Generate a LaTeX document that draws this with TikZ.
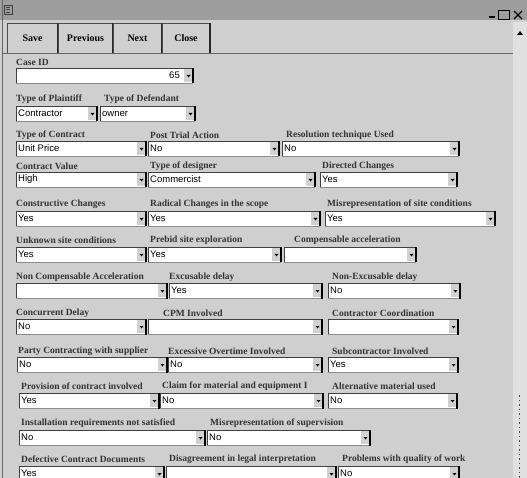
\documentclass[tikz,border=0pt]{standalone}
\usepackage{fontspec}
\setmainfont{Liberation Serif}
\newfontfamily\valfont{Liberation Sans}

% one drop-down field: name, left, right, top, value
\newcommand\formfield[5]{%
  \fill[white] (#2,#4) rectangle (#3,#4+15);
  \draw[fieldedge] (#2,#4+15) -- (#2,#4) -- (#3,#4);
  \draw[fieldfoot] (#2,#4+15) -- (#3,#4+15);
  \fill[btnface] (#3-9,#4+1) rectangle (#3-1,#4+14);
  \fill[black] (#3-6.5,#4+7) -- (#3-2.5,#4+7) -- (#3-4.5,#4+9.5) -- cycle;
  \draw[black, line width=2.2] (#3,#4) -- (#3,#4+15.5);
  \node[val] (#1) at (#2+2,#4+7.5) {#5};
}
% one field caption: name, x, y, text
\newcommand\formlabel[4]{\node[lab] (#1) at (#2,#3) {#4};}

\begin{document}
\begin{tikzpicture}[x=1pt,y=-1pt,
  lab/.style={anchor=west, inner sep=0pt, text=black!80,
              font=\fontsize{9.5}{10}\selectfont\bfseries},
  val/.style={anchor=west, inner sep=0pt, text=black,
              font=\valfont\fontsize{9.5}{10}\selectfont},
  btnlab/.style={inner sep=0pt, font=\fontsize{10}{11}\selectfont\bfseries},
  fieldedge/.style={draw=black!75, line width=0.8},
  fieldfoot/.style={draw=black!45, line width=0.6},
  btnface/.style={fill=black!18},
  toolbtn/.style={draw=black!70, line width=0.8},
]
\useasboundingbox (0,0) rectangle (527,478);
\fill[black!19] (0,0) rectangle (527,478);

% title bar
\fill[black!38] (0,0) rectangle (527,20);
\draw[black!75, line width=0.8] (4,5) rectangle (12,14);
\draw[black!75, line width=0.8] (6,7) -- (10,7) (6,9.5) -- (10,9.5) (6,12) -- (10,12);
\draw[black, line width=1.4] (489,17) -- (495,17);
\draw[black, line width=0.9] (498,10) rectangle (509,19);
\draw[black, line width=1.6] (498,10.5) -- (509,10.5);
\draw[black, line width=1.2] (514,11) -- (522,19) (522,11) -- (514,19);

% window border
\draw[black!60, line width=1.2] (2.5,0) -- (2.5,478);

% toolbar
\foreach \l/\r/\t/\n in {7/58/Save/bsave, 58/113/Previous/bprev, 113/162/Next/bnext, 162/210/Close/bclose}{
  \draw[toolbtn] (\l,53) -- (\l,23) -- (\r,23);
  \draw[black!85, line width=1.6] (\r,23) -- (\r,53);
  \node[btnlab] (\n) at ({(\l+\r)/2},38) {\t};
}
\draw[black!60, line width=0.9] (3,53) -- (513,53);

% scroll bar
\fill[black!12] (513,22) rectangle (527,478);
\fill[black] (517,35) -- (523,35) -- (520,31) -- cycle;
\draw[black!70, dashed, dash pattern=on 1.5pt off 3pt, line width=1] (519.5,395) -- (519.5,478);

% Case ID
\formlabel{lcase}{16}{62}{Case ID}
\formfield{fcase}{16}{193}{68}{}
\node[val, anchor=east] (vcase) at (180,75.5) {65};

% row 1
\formlabel{lplaint}{16}{99}{Type of Plaintiff}
\formlabel{ldefend}{104}{99}{Type of Defendant}
\formfield{fplaint}{16}{97}{106}{Contractor}
\formfield{fdefend}{100}{195}{106}{owner}

% row 2
\formlabel{lcontract}{16}{135}{Type of Contract}
\formlabel{lposttrial}{150}{135}{Post Trial Action}
\formlabel{lresol}{286}{135}{Resolution technique Used}
\formfield{fcontract}{16}{146}{141}{Unit Price}
\formfield{fposttrial}{148}{279}{141}{No}
\formfield{fresol}{282}{459}{141}{No}

% row 3
\formlabel{lvalue}{16}{166}{Contract Value}
\formlabel{ldesigner}{150}{166}{Type of designer}
\formlabel{ldirected}{322}{166}{Directed Changes}
\formfield{fvalue}{16}{146}{172}{High}
\formfield{fdesigner}{148}{315}{172}{Commercist}
\formfield{fdirected}{320}{457}{172}{Yes}

% row 4
\formlabel{lconstr}{16}{204}{Constructive Changes}
\formlabel{lradical}{150}{204}{Radical Changes in the scope}
\formlabel{lmisrep}{327}{204}{Misrepresentation of site conditions}
\formfield{fconstr}{16}{146}{211}{Yes}
\formfield{fradical}{148}{320}{211}{Yes}
\formfield{fmisrep}{325}{495}{211}{Yes}

% row 5
\formlabel{lunknown}{16}{240}{Unknown site conditions}
\formlabel{lprebid}{150}{240}{Prebid site exploration}
\formlabel{lcompacc}{294}{240}{Compensable acceleration}
\formfield{funknown}{16}{146}{247}{Yes}
\formfield{fprebid}{148}{281}{247}{Yes}
\formfield{fcompacc}{284}{416}{247}{}

% row 6
\formlabel{lnoncomp}{16}{277}{Non Compensable Acceleration}
\formlabel{lexcus}{169}{277}{Excusable delay}
\formlabel{lnonexcus}{332}{277}{Non-Excusable delay}
\formfield{fnoncomp}{16}{167}{283}{}
\formfield{fexcus}{169}{322}{283}{Yes}
\formfield{fnonexcus}{328}{460}{283}{No}

% row 7
\formlabel{lconcur}{16}{313}{Concurrent Delay}
\formlabel{lcpm}{163}{313}{CPM Involved}
\formlabel{lcoord}{332}{313}{Contractor Coordination}
\formfield{fconcur}{16}{146}{319}{No}
\formfield{fcpm}{148}{322}{319}{}
\formfield{fcoord}{328}{458}{319}{}

% row 8
\formlabel{lparty}{18}{351}{Party Contracting with supplier}
\formlabel{lovertime}{168}{351}{Excessive Overtime Involved}
\formlabel{lsubcon}{332}{351}{Subcontractor Involved}
\formfield{fparty}{17}{167}{357}{No}
\formfield{fovertime}{168}{322}{357}{No}
\formfield{fsubcon}{328}{458}{357}{Yes}

% row 9
\formlabel{lprovision}{21}{386}{Provision of contract involved}
\formlabel{lclaim}{162}{386}{Claim for material and equipment I}
\formlabel{lalter}{332}{386}{Alternative material used}
\formfield{fprovision}{19}{159}{393}{Yes}
\formfield{fclaim}{160}{323}{393}{No}
\formfield{falter}{328}{457}{393}{No}

% row 10
\formlabel{linstall}{21}{423}{Installation requirements not satisfied}
\formlabel{lsuperv}{210}{423}{Misrepresentation of supervision}
\formfield{finstall}{19}{205}{430}{No}
\formfield{fsuperv}{207}{370}{430}{No}

% row 11
\formlabel{ldefect}{21}{459}{Defective Contract Documents}
\formlabel{ldisagree}{169}{459}{Disagreement in legal interpretation}
\formlabel{lquality}{342}{459}{Problems with quality of work}
\formfield{fdefect}{19}{164}{466}{Yes}
\formfield{fdisagree}{166}{336}{466}{}
\formfield{fquality}{338}{459}{466}{No}
\end{tikzpicture}
\end{document}
